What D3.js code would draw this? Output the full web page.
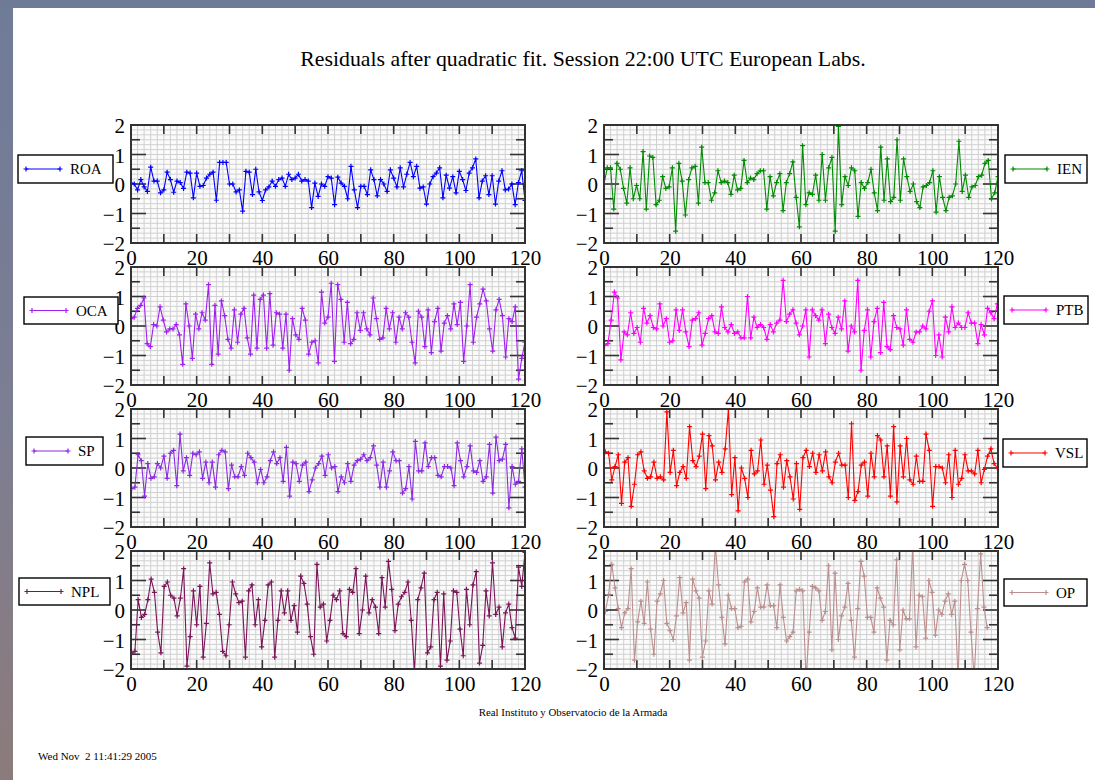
<!DOCTYPE html>
<html><head><meta charset="utf-8">
<script src="https://cdn.jsdelivr.net/npm/d3@7"></script>
<style>
body{margin:0;background:#fff;}
svg{display:block;}
text{font-family:"Liberation Serif","Times New Roman",serif;fill:#000;}
</style>
</head><body>
<svg id="chart" width="1095" height="780"></svg>
<script>
// ---------------- DATA ----------------
const titleText = "Residuals after quadratic fit. Session 22:00 UTC European Labs.";
const footerText = "Real Instituto y Observatocio de la Armada";
const dateText = "Wed Nov  2 11:41:29 2005";
const xTickLabels = [0, 20, 40, 60, 80, 100, 120];
const yTickLabels = [2, 1, 0, -1, -2];
const labs = ["ROA", "IEN", "OCA", "PTB", "SP", "VSL", "NPL", "OP"];

const ROA = [0.03,0.0,-0.2,0.15,-0.1,-0.25,0.57,0.1,0.1,-0.3,
-0.2,0.4,0.15,-0.28,0.1,0.05,-0.15,0.4,0.37,-0.47,
0.37,-0.08,-0.05,0.2,0.33,0.4,-0.55,0.73,0.73,0.73,
0.0,0.0,-0.27,-0.2,-0.92,0.43,0.4,-0.36,0.5,-0.27,
-0.56,-0.2,-0.1,0.1,-0.08,0.15,0.2,-0.08,0.33,0.15,
0.2,0.33,0.1,0.15,0.1,-0.8,0.03,-0.42,0.0,-0.08,
0.25,0.2,-0.7,0.23,0.03,-0.08,-0.5,0.6,-0.2,-0.8,
-0.08,-0.08,-0.36,0.48,0.15,-0.4,0.15,0.0,-0.25,0.48,
0.2,-0.1,0.55,-0.1,0.33,0.73,0.25,0.6,-0.14,-0.1,
-0.68,0.0,0.25,0.37,0.55,-0.47,0.3,-0.14,0.25,-0.3,
0.43,0.15,-0.22,0.37,0.55,0.85,-0.47,0.1,0.28,-0.36,
0.28,-0.68,0.1,0.45,-0.2,-0.17,0.0,-0.7,0.05,0.45,-0.56];

const IEN = [0.0,0.55,0.55,-0.85,0.7,0.5,-0.15,-0.65,0.55,-0.5,
-0.05,-0.5,1.1,-0.85,0.95,0.9,-0.7,-0.55,0.25,-0.15,
-0.1,0.55,-1.6,0.7,0.1,-1.05,0.15,0.55,0.6,-0.65,
1.25,0.05,0.05,-0.55,-0.3,0.45,0.05,0.1,0.05,-0.35,
0.3,-0.2,-0.15,0.8,0.05,0.2,0.15,0.35,0.45,0.45,
-0.85,0.25,-0.4,0.05,0.35,-0.9,0.05,0.35,0.75,-0.45,
-1.45,1.3,-0.7,-0.3,-0.35,0.3,-0.55,1.0,-0.55,0.55,
0.9,-1.6,1.95,-0.7,0.25,-0.05,0.55,0.45,-1.1,0.05,
-0.15,0.05,0.5,-0.3,-0.9,1.25,-0.55,0.85,-0.6,-0.45,
1.5,-0.55,0.85,0.25,-0.25,0.0,-0.6,-0.8,-0.1,-0.05,
0.05,0.45,-0.95,0.25,-0.45,-0.9,-0.45,-0.4,0.0,1.45,
-0.25,0.3,-0.45,-0.1,-0.05,0.25,0.3,0.7,0.8,-0.5,-0.3,0.25];

const OCA = [0.25,0.3,0.6,0.7,0.95,-0.6,-0.7,0.05,0.0,0.65,
0.2,-0.2,-0.1,-0.1,0.05,-0.3,-1.3,0.75,0.0,-1.1,
0.4,-0.1,0.45,0.2,1.4,-1.3,0.7,-0.95,0.85,0.35,
-0.45,-0.75,0.55,-0.55,0.4,0.6,-0.4,-0.95,1.05,-0.75,
0.9,1.05,-0.75,1.1,-0.65,0.45,0.4,-0.75,0.4,-1.5,
0.25,-0.3,-0.45,0.6,0.2,-0.95,-0.55,-0.5,-1.25,1.15,
0.1,0.3,1.45,-1.2,1.4,0.9,-0.55,0.8,-0.6,-0.45,
0.45,-0.15,0.45,-0.1,-0.3,0.95,0.25,-0.45,-0.4,0.6,
-0.1,0.45,-0.55,0.3,-0.1,0.45,0.3,-0.55,-1.25,0.5,
0.3,-0.7,0.55,-0.9,0.15,0.6,-0.85,0.1,0.35,-0.1,
0.75,0.05,0.8,-1.2,0.0,1.4,-0.55,0.3,0.75,1.25,
0.85,-0.1,-0.85,0.55,0.9,0.35,-1.05,0.25,0.15,0.65,-1.8,-1.1,-0.55];

const PTB = [-0.65,-0.6,0.2,1.15,0.95,-1.15,-0.2,-0.3,0.45,-0.25,
-0.05,-0.55,0.6,0.1,0.35,-0.05,-0.1,0.75,0.0,0.25,
-0.55,-0.5,0.55,-0.15,0.55,-0.2,-0.7,0.2,0.25,0.45,
-0.65,-0.25,0.25,0.35,-0.2,-0.25,0.65,-0.05,-0.2,0.05,
-0.25,-0.2,-0.4,-0.4,1.0,-0.4,0.3,-0.05,0.05,-0.05,
-0.45,0.05,-0.2,0.1,0.2,1.55,0.15,0.4,0.55,0.1,
-0.3,0.0,0.55,-1.05,0.55,0.35,0.2,0.55,-0.6,0.4,
-0.05,-0.25,0.3,-0.1,0.85,-0.85,0.0,-0.2,1.55,-1.5,
-0.15,0.55,-1.05,0.15,0.6,-0.9,0.8,-0.7,-0.8,0.35,
-0.05,-0.1,-0.65,0.55,-0.45,-0.55,-0.2,-0.2,0.0,-0.1,
0.5,0.85,-1.0,-0.3,-1.05,0.3,-0.2,0.65,-0.05,0.1,
-0.05,-0.05,0.45,0.1,0.1,-0.6,0.05,-0.3,0.6,0.45,0.25,0.75];

const SP = [-0.7,-0.65,0.45,0.25,-0.95,0.15,-0.35,-0.3,0.15,0.0,
0.4,-0.35,0.5,0.6,-0.6,1.15,-0.1,0.35,-0.25,0.5,
0.45,0.55,-0.35,0.2,-0.5,0.2,-0.65,0.45,0.6,0.55,
-0.7,0.1,-0.3,-0.3,0.05,-0.25,0.5,0.35,0.2,-0.5,
-0.05,-0.5,-0.3,0.25,0.55,0.15,0.35,-0.45,0.7,-0.95,
0.2,0.15,-0.45,0.1,0.2,-0.8,-0.4,0.0,0.15,0.4,
-0.25,0.45,0.0,0.05,-0.8,-0.3,-0.5,0.15,-0.45,0.1,
0.25,0.3,0.45,0.25,0.35,0.75,0.1,-0.65,0.2,-0.65,
-0.1,0.55,0.25,0.25,-0.85,-0.7,0.05,-1.05,0.9,-0.1,
-0.1,0.85,0.05,0.35,0.35,-0.25,-0.3,0.05,0.05,0.0,
-0.6,0.85,0.25,-0.3,0.05,0.75,-0.1,-0.15,0.25,-0.45,
-0.3,0.8,-0.85,1.05,0.25,0.3,0.8,-1.35,0.05,-0.55,-0.45,0.65,-0.65];

const VSL = [0.55,0.5,-0.4,0.05,0.45,-1.2,0.2,0.35,-1.3,-0.55,
0.45,0.55,-0.1,-0.35,-0.3,0.2,-0.35,-0.3,-0.4,1.9,
-0.15,0.6,-0.6,-0.15,0.05,-0.35,1.4,0.25,0.05,0.4,
1.15,-0.7,1.1,0.75,-0.4,0.2,-0.15,0.65,2.0,-0.9,
0.35,-1.45,0.0,-0.35,-1.0,0.6,-0.2,-0.1,0.95,-0.55,
0.1,-0.75,-1.65,0.15,0.45,-0.65,0.25,-0.3,-1.05,0.15,
-1.4,0.35,0.6,0.05,0.5,-0.15,0.45,-0.1,0.55,-0.3,
-0.5,0.2,0.5,0.1,0.1,-1.0,1.5,-1.1,-0.8,0.1,
0.2,-0.95,0.5,-0.3,1.1,0.95,-0.3,0.75,-0.95,1.4,
-1.15,0.75,-0.3,1.0,-0.4,-0.55,0.4,-0.45,-0.45,1.15,
0.6,-1.3,0.05,0.05,0.0,-0.5,0.45,-1.0,0.6,-0.55,
-0.35,0.45,-0.1,-0.1,-0.2,0.6,-0.5,-0.05,0.4,0.65,0.15,0.0];

const NPL = [-1.45,-1.4,0.35,-0.25,-0.15,0.35,1.05,0.6,-0.75,-1.45,
0.8,0.95,0.5,0.4,-0.2,0.4,1.4,-1.9,-0.9,0.65,
-0.5,0.8,-1.6,-0.45,1.6,0.55,0.6,-0.15,-1.4,-1.55,
-0.5,0.95,0.55,0.25,0.3,-1.6,0.65,0.85,-0.5,0.35,
-1.25,-0.35,0.85,0.95,-1.6,-0.35,0.65,-0.1,0.65,-0.35,
0.15,-0.75,1.15,0.9,0.2,-0.9,-1.5,1.55,0.1,0.2,
-1.05,-0.35,0.5,0.35,0.65,-0.8,-0.9,0.7,0.6,1.4,
-0.8,0.0,1.15,-0.1,0.35,0.1,-0.8,1.1,0.1,1.65,
0.7,-0.7,0.2,0.45,0.6,0.95,-0.35,-2.1,0.35,0.75,
1.25,-1.45,-1.25,0.35,0.6,-1.9,0.55,-1.7,-1.05,0.65,
0.6,-0.65,-1.55,0.7,-0.5,0.85,1.3,-1.8,-1.2,0.65,
-0.2,1.6,-0.15,0.1,-1.25,-0.1,0.2,-0.6,-0.95,1.45,0.8,1.95];

const OP = [-0.05,0.5,1.55,0.75,0.05,-0.6,-0.1,0.05,1.4,-1.7,
-0.4,0.3,-0.45,0.95,-0.65,-1.5,0.3,0.55,1.0,-0.45,
-0.7,-1.0,-0.2,1.1,-0.1,0.25,-1.7,1.05,0.65,0.4,
-1.6,-1.05,0.65,0.2,2.2,0.85,-0.25,-1.15,0.5,0.05,
0.05,-0.6,-0.55,0.95,1.05,-0.4,-0.05,0.75,0.1,0.1,
0.85,0.15,0.15,-0.6,0.85,-0.25,-1.05,-0.9,-0.75,0.65,
0.7,0.65,-2.3,-0.75,0.8,0.75,0.65,-0.35,-0.05,1.5,
-1.35,1.25,-1.0,-0.2,0.1,0.9,-0.35,-1.6,0.05,1.65,
1.15,-0.25,-0.25,-0.75,0.75,0.4,0.1,-1.7,-0.35,-0.5,
1.7,-1.35,0.0,-0.3,-0.3,2.2,-1.25,0.5,0.45,-0.95,
1.0,0.6,-0.85,0.0,-0.15,0.3,0.55,-0.15,0.3,-2.3,
1.0,1.55,1.0,-0.75,-2.3,0.05,1.9,0.1,-0.6];

// time span covered by each series (x of first and last sample)
const spanStart = [0, 0, 0, 0.2, 0.2, 0.4, 0.2, 0.4];
const spanEnd   = [120, 120, 120, 119.8, 120, 119.8, 120, 116.7];
const seriesValues = [ROA, IEN, OCA, PTB, SP, VSL, NPL, OP];

// ---------------- STYLE / LAYOUT ----------------
const colors = ["#0000ff", "#008b00", "#a020f0", "#ff00ff", "#8a2be2", "#ff0000", "#7a1458", "#bc8f8f"];
const colX = [131, 604];
const rowY = [125, 267, 409, 551];
const PW = 394, PH = 118;
const legendBoxes = [
  {x: 18, y: 155, w: 95, h: 28},
  {x: 1005, y: 155, w: 82, h: 28},
  {x: 24, y: 297, w: 94, h: 27},
  {x: 1004, y: 296, w: 84, h: 28},
  {x: 26, y: 437, w: 77, h: 28},
  {x: 1003, y: 439, w: 84, h: 28},
  {x: 19, y: 578, w: 91, h: 27},
  {x: 1004, y: 579, w: 83, h: 27}
];

const svg = d3.select("#chart");
const defs = svg.append("defs");
const grad = defs.append("linearGradient").attr("id", "lband").attr("x1", 0).attr("y1", 0).attr("x2", 0).attr("y2", 1);
grad.append("stop").attr("offset", "0%").attr("stop-color", "#6f7b98");
grad.append("stop").attr("offset", "55%").attr("stop-color", "#7d7e92");
grad.append("stop").attr("offset", "100%").attr("stop-color", "#8c7b7b");

// page background
svg.append("rect").attr("x", 0).attr("y", 0).attr("width", 1095).attr("height", 780).attr("fill", "#ffffff");
svg.append("rect").attr("x", 0).attr("y", 0).attr("width", 13).attr("height", 780).attr("fill", "url(#lband)");
svg.append("rect").attr("x", 0).attr("y", 0).attr("width", 1095).attr("height", 8).attr("fill", "#6f7a96");

// title
svg.append("text").attr("x", 583).attr("y", 66).attr("text-anchor", "middle")
  .attr("font-size", 21.8).text(titleText);

const plus = "M-2.5,0H2.5M0,-2.5V2.5";

seriesValues.forEach((vals, i) => {
  const row = Math.floor(i / 2), col = i % 2;
  const x0 = colX[col], y0 = rowY[row];
  const x = d3.scaleLinear().domain([0, 120]).range([0, PW]);
  const y = d3.scaleLinear().domain([-2, 2]).range([PH, 0]);
  const g = svg.append("g").attr("transform", `translate(${x0},${y0})`);

  const cid = "clip" + i;
  defs.append("clipPath").attr("id", cid).append("rect").attr("width", PW).attr("height", PH);

  g.append("rect").attr("width", PW).attr("height", PH).attr("fill", "#fbfbfb");
  // fine grid
  const gx = d3.range(2, 120, 2);
  const gy = d3.range(1, 24).map(k => -2 + k / 6);
  g.append("g").selectAll("line").data(gx).join("line")
    .attr("x1", d => x(d)).attr("x2", d => x(d)).attr("y1", 0).attr("y2", PH)
    .attr("stroke", "#d0d0d0").attr("stroke-width", 1);
  g.append("g").selectAll("line").data(gy).join("line")
    .attr("x1", 0).attr("x2", PW).attr("y1", d => y(d)).attr("y2", d => y(d))
    .attr("stroke", "#d0d0d0").attr("stroke-width", 1);

  // tick marks (inside, all four sides)
  const tickCol = "#333";
  const xt = d3.range(10, 120, 10);
  const tk = g.append("g").attr("stroke", tickCol).attr("stroke-width", 1.6);
  xt.forEach(v => {
    tk.append("line").attr("x1", x(v)).attr("x2", x(v)).attr("y1", 0).attr("y2", 9);
    tk.append("line").attr("x1", x(v)).attr("x2", x(v)).attr("y1", PH).attr("y2", PH - 9);
  });
  d3.range(-1.5, 2, 0.5).forEach(v => {
    const len = Number.isInteger(v) ? 15 : 9;
    tk.append("line").attr("x1", 0).attr("x2", len).attr("y1", y(v)).attr("y2", y(v));
    tk.append("line").attr("x1", PW).attr("x2", PW - len).attr("y1", y(v)).attr("y2", y(v));
  });

  // data
  const n = vals.length;
  const pts = vals.map((v, k) => [spanStart[i] + k * (spanEnd[i] - spanStart[i]) / (n - 1), v]);
  const line = d3.line().x(d => x(d[0])).y(d => y(d[1]));
  const dg = g.append("g").attr("clip-path", `url(#${cid})`);
  dg.append("path").datum(pts).attr("d", line).attr("fill", "none")
    .attr("stroke", colors[i]).attr("stroke-width", 1.1);
  dg.selectAll("path.m").data(pts).join("path").attr("class", "m")
    .attr("d", plus).attr("transform", d => `translate(${x(d[0])},${y(d[1])})`)
    .attr("stroke", colors[i]).attr("stroke-width", 1.2).attr("fill", "none");

  // frame
  g.append("rect").attr("width", PW).attr("height", PH).attr("fill", "none")
    .attr("stroke", "#333").attr("stroke-width", 2);

  // axis labels
  const ax = g.append("g").attr("transform", `translate(0,${PH})`)
    .call(d3.axisBottom(x).tickValues(xTickLabels).tickSize(0).tickPadding(7).tickFormat(d3.format("d")));
  ax.select(".domain").remove();
  ax.selectAll("text").attr("font-size", 21).attr("font-family", "Liberation Serif, serif").attr("fill", "#000");
  const ay = g.append("g")
    .call(d3.axisLeft(y).tickValues(yTickLabels).tickSize(0).tickPadding(6).tickFormat(d3.format("d")));
  ay.select(".domain").remove();
  ay.selectAll("text").attr("font-size", 21).attr("font-family", "Liberation Serif, serif")
    .attr("fill", "#000").attr("dy", "0.38em");

  // legend
  const b = legendBoxes[i];
  const lg = svg.append("g").attr("transform", `translate(${b.x},${b.y})`);
  lg.append("rect").attr("width", b.w).attr("height", b.h).attr("fill", "#fff")
    .attr("stroke", "#000").attr("stroke-width", 1.4);
  const cy = b.h / 2;
  lg.append("line").attr("x1", 8).attr("x2", 42).attr("y1", cy).attr("y2", cy)
    .attr("stroke", colors[i]).attr("stroke-width", 1.2);
  [8, 42].forEach(px => lg.append("path").attr("d", plus)
    .attr("transform", `translate(${px},${cy})`).attr("stroke", colors[i]).attr("stroke-width", 1.2));
  lg.append("text").attr("x", 52).attr("y", cy).attr("dy", "0.35em").attr("font-size", 15).text(labs[i]);
});

// footer
svg.append("text").attr("x", 573).attr("y", 716).attr("text-anchor", "middle")
  .attr("font-size", 10.9).text(footerText);
svg.append("text").attr("x", 38).attr("y", 760).attr("font-size", 11)
  .attr("xml:space", "preserve").style("white-space", "pre").text(dateText);
</script>
</body></html>
